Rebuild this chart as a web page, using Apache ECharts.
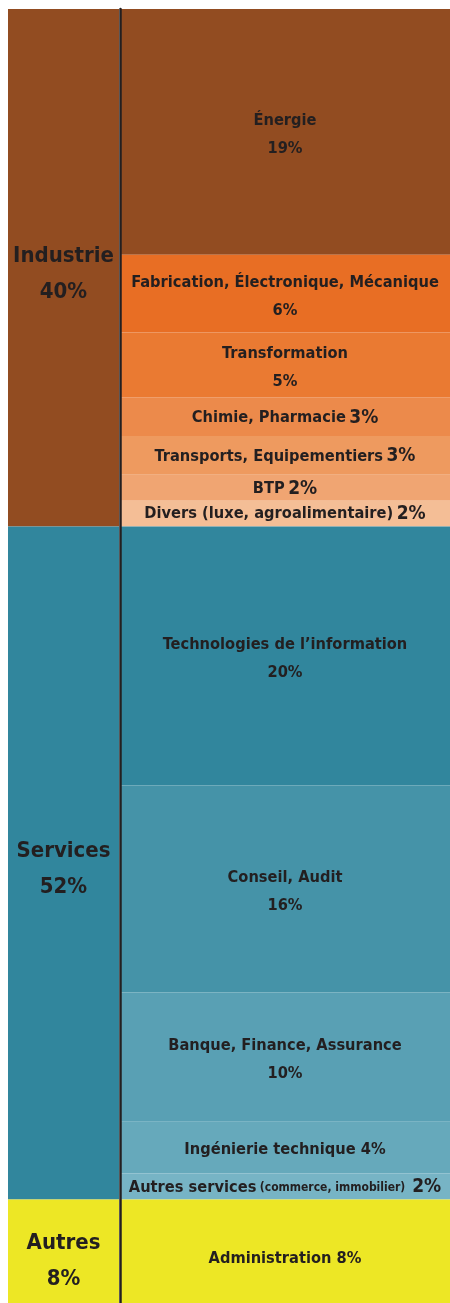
<!DOCTYPE html>
<html>
<head>
<meta charset="utf-8">
<script src="https://cdn.jsdelivr.net/npm/echarts@6/dist/echarts.min.js"></script>
<style>
  html,body{margin:0;padding:0;background:#fff;}
  #chart{width:450px;height:1303px;}
</style>
</head>
<body>
<div id="chart"></div>
<script>
/* données : répartition par secteur (%) */
const groups      = ['Industrie', 'Services', 'Autres'];
const groupValues = [40, 52, 8];

const sectors = ['Énergie', 'Fabrication, Électronique, Mécanique', 'Transformation',
  'Chimie, Pharmacie', 'Transports, Equipementiers', 'BTP', 'Divers (luxe, agroalimentaire)',
  'Technologies de l’information', 'Conseil, Audit', 'Banque, Finance, Assurance',
  'Ingénierie technique', 'Autres services', 'Administration'];
const sectorNotes  = ['', '', '', '', '', '', '', '', '', '', '', '(commerce, immobilier)', ''];
const sectorValues = [19, 6, 5, 3, 3, 2, 2, 20, 16, 10, 4, 2, 8];

/* style */
const FONT = "'DejaVu Sans Condensed',sans-serif";
const INK = '#231f20';
const GROUP_COL  = ['#924c21', '#31869d', '#ede725'];
const SECTOR_COL = ['#924c21','#e86e24','#ea7a32','#ec8a4b','#ee9a5f','#f0a572','#f4be96',
                    '#31869d','#4593a8','#59a0b4','#66a9bb','#77b4c5','#ede725'];
// 0 = deux lignes, 1 = une ligne (% plus grand), 2 = une ligne simple, 3 = avec note
const LAYOUT = [0,0,0,1,1,1,1,0,0,0,2,3,2];
const GROUP_DY  = [6, 6, 10];
const SECTOR_DY = [3,3,3,1,1,1,0,3,3,3,2,1,8];

const H = 1294, TOP = 9;

function yAx(idx, showLine){
  return {type:'value', gridIndex:idx, min:0, max:100, inverse:true, z:10,
    axisLabel:{show:false}, axisTick:{show:false}, splitLine:{show:false},
    axisLine:{show:showLine, lineStyle:{color:INK, width:2.5}}};
}
function xAx(idx){
  return {type:'category', gridIndex:idx, data:[''], show:false};
}

const txt = {
  a:{fontFamily:FONT, fontWeight:'bold', fontSize:16.3, color:INK, lineHeight:28},
  b:{fontFamily:FONT, fontWeight:'bold', fontSize:19, color:INK, lineHeight:28},
  s:{fontFamily:FONT, fontWeight:'bold', fontSize:12, color:INK, lineHeight:28}
};

const series = [];
groups.forEach((g, i) => {
  series.push({
    type:'bar', xAxisIndex:0, yAxisIndex:0, stack:'g', name:g,
    data:[groupValues[i]], barWidth:'100%',
    itemStyle:{color:GROUP_COL[i]},
    label:{show:true, position:'inside', offset:[0, GROUP_DY[i]],
      fontFamily:FONT, fontWeight:'bold', fontSize:22, lineHeight:36, color:INK,
      formatter:() => g + '\n' + groupValues[i] + '%'}
  });
});
sectors.forEach((s, i) => {
  const v = sectorValues[i];
  let fmt;
  if (LAYOUT[i] === 0) fmt = '{a|' + s + '}\n{a|' + v + '%}';
  else if (LAYOUT[i] === 1) fmt = '{a|' + s + '} {b|' + v + '%}';
  else if (LAYOUT[i] === 3) fmt = '{a|' + s + '} {s|' + sectorNotes[i] + '}  {b|' + v + '%}';
  else fmt = '{a|' + s + ' ' + v + '%}';
  series.push({
    type:'bar', xAxisIndex:1, yAxisIndex:1, stack:'s', name:s,
    data:[v], barWidth:'100%',
    itemStyle:{color:SECTOR_COL[i]},
    label:{show:true, position:'inside', offset:[0, SECTOR_DY[i]],
      formatter:() => fmt, rich:txt}
  });
});

const chart = echarts.init(document.getElementById('chart'), null, {renderer:'canvas'});
chart.setOption({
  animation:false,
  textStyle:{fontFamily:FONT},
  grid:[
    {left:8, top:TOP, width:111, height:H},
    {left:120, top:TOP, width:330, height:H}
  ],
  xAxis:[xAx(0), xAx(1)],
  yAxis:[yAx(0, false), yAx(1, true)],
  series
});
</script>
</body>
</html>
